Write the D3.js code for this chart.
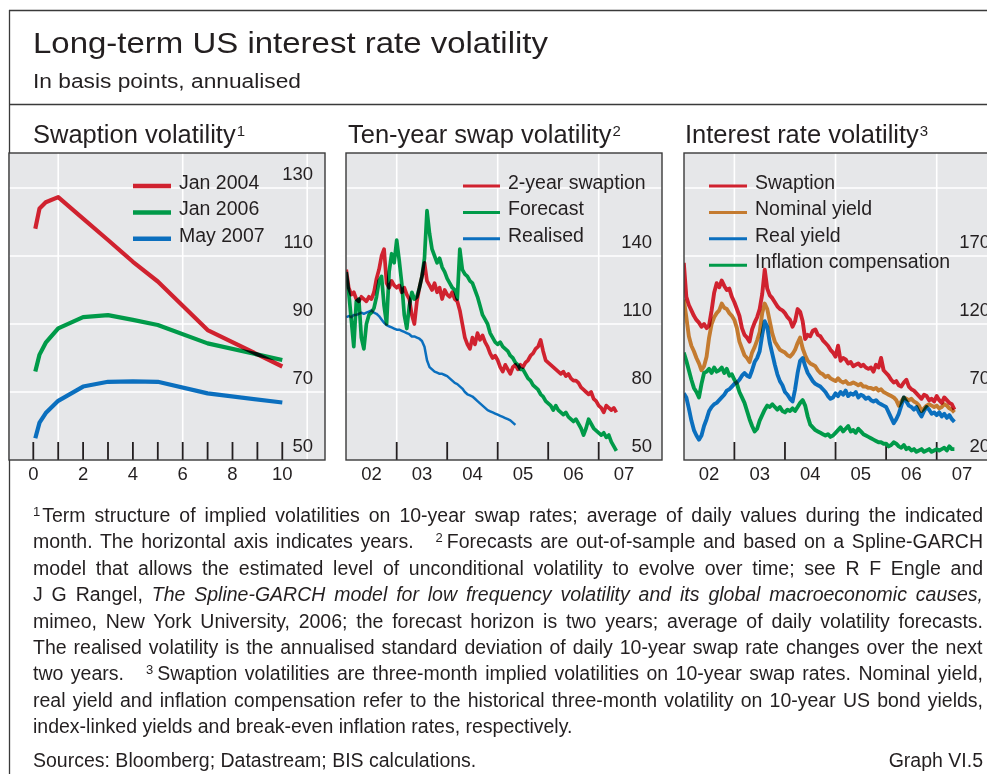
<!DOCTYPE html>
<html>
<head>
<meta charset="utf-8">
<script src="https://cdn.jsdelivr.net/npm/d3@7"></script>
<style>
  html, body { margin: 0; padding: 0; background: #fff; }
  svg { display: block; font-family: "Liberation Sans", Arial, Helvetica, sans-serif; }
  text { fill: #231f20; }
</style>
</head>
<body>
<svg id="chart" width="987" height="774"></svg>
<script>
// ---- data ----

// Panel 1: term structure of swaption implied vols (maturity in years)
const maturities = [0.08, 0.25, 0.5, 1, 2, 3, 4, 5, 7, 10]
const jan2004 = [118, 124, 125.8, 127.3, 121, 114.7, 108.3, 102.5, 88.2, 77.5]
const jan2006 = [76, 81, 84.5, 88.7, 92, 92.6, 91.2, 89.7, 84.3, 79.4]
const may2007 = [56.4, 61, 63.8, 67.4, 71.6, 73, 73.1, 73, 69.6, 66.9]

// Panels 2 and 3: readings every 0.05 year from Jan 2002
const START_YEAR = 2002
const STEP = 0.05

const swaption2y = [
  134, 126, 123, 124, 121, 120, 122, 121, 120, 122, 121, 124, 130, 134, 140, 143, 128, 126, 129, 127,
  126, 127, 124, 126, 123, 121, 114, 110, 120, 126, 131, 137, 129, 127, 125, 128, 124, 126, 121, 125,
  123, 122, 124, 121, 120, 116, 110, 104, 101, 99, 104, 101, 106, 103, 105, 102, 100, 97, 95, 96,
  94, 91, 89, 92, 90, 88, 91, 92, 90, 92, 91, 93, 94, 96, 97, 99, 100, 103, 98, 94,
  93, 92, 91, 90, 89, 88, 89, 87, 88, 86, 85, 85, 84, 82, 81, 80, 79, 80, 77, 76,
  74, 73, 71, 74, 73, 72, 73, 71
]
const forecast = [
  133, 124, 112, 100, 120, 121, 104, 99, 110, 114, 115, 117, 122, 129, 131, 118, 110, 133, 141, 137,
  147, 138, 128, 114, 108, 118, 124, 121, 122, 126, 131, 139, 160, 150, 143, 140, 137, 139, 135, 133,
  130, 128, 126, 125, 121, 143, 134, 132, 131, 129, 128, 125, 122, 118, 114, 112, 110, 106, 104, 102,
  101, 102, 100, 99, 98, 96, 95, 93, 92, 90, 90, 88, 86, 85, 83, 82, 81, 79, 78, 76,
  75, 74, 72, 74, 72, 71, 70, 71, 69, 68, 67, 68, 66, 64, 61, 64, 68, 66, 64, 63,
  62, 61, 62, 60, 61, 58, 56, 54
]
const realised = [
  113, 113.5, 113, 114, 114, 114.5, 115, 114.5, 115, 115.5, 116, 115, 114.5, 113.5, 112, 110.5, 109.5, 109, 108.5, 108,
  107.5, 107.5, 107, 106.5, 106, 105.5, 104.5, 104.5, 104, 103.5, 102.5, 100, 94, 91, 90, 89, 88.5, 88, 88, 87.5,
  87, 86, 85, 84, 83.5, 82.5, 81.5, 80, 79, 78.5, 78, 77, 76, 75, 74, 73, 72, 71.5, 71, 70.5,
  70, 69.5, 69, 68.5, 68, 67.5, 66.5, 65.5
]

const swaption3m = [
  165, 140, 134, 130, 126, 123, 121, 118, 120, 117, 119, 130, 143, 150, 147, 152, 148, 145, 146, 140,
  136, 131, 126, 117, 112, 110, 107, 116, 121, 125, 131, 142, 160, 146, 141, 139, 136, 133, 131, 130,
  128, 125, 123, 118, 122, 131, 129, 122, 109, 112, 111, 115, 116, 112, 111, 108, 106, 104, 101, 99,
  96, 104, 93, 95, 94, 91, 92, 89, 90, 91, 89, 90, 88, 87, 88, 85, 90, 88, 95, 86,
  84, 82, 79, 77, 78, 75, 74, 77, 79, 74, 72, 71, 69, 67, 65, 68, 67, 64, 65, 63,
  67, 64, 62, 66, 64, 62, 61, 57
]
const nominalYield = [
  138, 125, 111, 104, 100, 95, 91, 86, 89, 96, 110, 120, 125, 128, 130, 135, 132, 131, 128, 126,
  123, 117, 107, 102, 97, 95, 92, 99, 103, 108, 114, 128, 135, 131, 122, 113, 107, 104, 101, 100,
  99, 97, 96, 98, 101, 106, 110, 102, 97, 93, 91, 90, 89, 86, 84, 83, 81, 82, 80, 79,
  78, 80, 78, 77, 78, 76, 76, 77, 76, 75, 76, 74, 74, 73, 73, 72, 73, 71, 72, 70,
  69, 68, 67, 66, 64, 60, 63, 66, 65, 64, 65, 63, 62, 60, 56, 58, 60, 61, 60, 59,
  60, 58, 59, 61, 60, 58, 57, 55
]
const realYield = [
  69, 66, 58, 49, 42, 38, 35, 38, 45, 50, 56, 59, 61, 62, 64, 66, 68, 71, 72, 74,
  76, 77, 79, 82, 84, 82, 81, 86, 92, 95, 100, 112, 122, 118, 106, 98, 90, 83, 78, 75,
  70, 68, 65, 63, 72, 84, 93, 95, 89, 84, 81, 78, 76, 75, 74, 72, 70, 67, 65, 66,
  69, 67, 70, 68, 71, 67, 69, 68, 70, 66, 68, 67, 65, 66, 64, 63, 64, 62, 61, 60,
  59, 55, 51, 47, 50, 54, 60, 66, 63, 60, 59, 57, 59, 55, 52, 56, 59, 57, 54, 55,
  53, 55, 52, 54, 51, 53, 50, 48
]
const inflationComp = [
  99, 93, 86, 79, 73, 70, 66, 76, 84, 85, 87, 84, 88, 85, 86, 88, 84, 87, 82, 83,
  79, 76, 70, 66, 62, 56, 50, 45, 41, 43, 49, 53, 57, 60, 59, 61, 59, 57, 59, 56,
  55, 57, 56, 58, 56, 59, 62, 64, 60, 52, 46, 44, 42, 41, 40, 39, 38, 39, 37, 38,
  40, 42, 44, 41, 43, 45, 41, 42, 40, 43, 41, 39, 38, 37, 36, 35, 34, 33, 33, 32,
  32, 30, 31, 33, 32, 30, 29, 31, 28, 29, 27, 28, 26, 27, 28, 26, 27, 28, 26, 27,
  28, 27, 28, 29, 27, 30, 28, 28
]

const p1Ticks = [50, 70, 90, 110, 130]
const p2Ticks = [50, 80, 110, 140]
const p3Ticks = [20, 70, 120, 170]
const yearLabels = ["02", "03", "04", "05", "06", "07"]

// ---- layout ----
const INK = "#231f20"
const FRAME = "#3a3a3a"
const PLOT_BG = "#e6e7e9"
const RED = "#d0222f"
const GREEN = "#009a49"
const BLUE = "#0b6fbe"
const ORANGE = "#c47b30"
const TOP = 153
const BOTTOM = 460

const svg = d3.select("#chart")

// outer frame
svg.append("line").attr("x1", 9).attr("x2", 987).attr("y1", 10.5).attr("y2", 10.5)
  .attr("stroke", FRAME).attr("stroke-width", 1.3)
svg.append("line").attr("x1", 9.5).attr("x2", 9.5).attr("y1", 10).attr("y2", 774)
  .attr("stroke", FRAME).attr("stroke-width", 1.3)
svg.append("line").attr("x1", 9).attr("x2", 987).attr("y1", 104.5).attr("y2", 104.5)
  .attr("stroke", FRAME).attr("stroke-width", 1.3)

svg.append("text")
  .attr("x", 33).attr("y", 53)
  .attr("font-size", 29)
  .attr("textLength", 515).attr("lengthAdjust", "spacingAndGlyphs")
  .text("Long-term US interest rate volatility")
svg.append("text")
  .attr("x", 33).attr("y", 88)
  .attr("font-size", 20)
  .attr("textLength", 268).attr("lengthAdjust", "spacingAndGlyphs")
  .text("In basis points, annualised")

const timeSeries = vals => vals.map((v, i) => [START_YEAR + i * STEP, v])

const panels = [
  {
    id: "p1", left: 9, right: 325, title: "Swaption volatility", sup: "1", titleX: 33,
    x: d3.scaleLinear().domain([0, 10]).range([33.3, 282.3]),
    y: d3.scaleLinear().domain([50, 130]).range([BOTTOM, 188]),
    yGrid: [70, 90, 110, 130], yTicks: p1Ticks, labelX: 313,
    xGrid: [1, 6, 11], xTicks: d3.range(0, 11),
    xLabels: d3.range(0, 11, 2).map(v => ({ at: v, text: String(v) })),
    series: [
      { name: "Jan 2004", color: RED, width: 4.2, points: maturities.map((m, i) => [m, jan2004[i]]) },
      { name: "Jan 2006", color: GREEN, width: 4.2, points: maturities.map((m, i) => [m, jan2006[i]]) },
      { name: "May 2007", color: BLUE, width: 4.2, points: maturities.map((m, i) => [m, may2007[i]]) }
    ],
    legend: { x1: 133, x2: 171, tx: 179, width: 4.5 }
  },
  {
    id: "p2", left: 346, right: 662, title: "Ten-year swap volatility", sup: "2", titleX: 348,
    x: d3.scaleLinear().domain([2002, 2007]).range([346.2, 598.7]),
    y: d3.scaleLinear().domain([50, 170]).range([BOTTOM, 188]),
    yGrid: [80, 110, 140, 170], yTicks: p2Ticks, labelX: 652,
    xGrid: [2003, 2005, 2007], xTicks: [2003, 2004, 2005, 2006, 2007],
    xLabels: yearLabels.map((t, i) => ({ at: 2002.5 + i, text: t })),
    series: [
      { name: "2-year swaption", color: RED, width: 3.7, points: timeSeries(swaption2y) },
      { name: "Forecast", color: GREEN, width: 3.7, points: timeSeries(forecast) },
      { name: "Realised", color: BLUE, width: 2.5, points: timeSeries(realised) }
    ],
    legend: { x1: 463, x2: 500, tx: 508, width: 3 }
  },
  {
    id: "p3", left: 684, right: 1000, title: "Interest rate volatility", sup: "3", titleX: 685,
    x: d3.scaleLinear().domain([2002, 2007]).range([683.8, 936.7]),
    y: d3.scaleLinear().domain([20, 220]).range([BOTTOM, 188]),
    yGrid: [70, 120, 170, 220], yTicks: p3Ticks, labelX: 990,
    xGrid: [2003, 2005, 2007], xTicks: [2003, 2004, 2005, 2006, 2007],
    xLabels: yearLabels.map((t, i) => ({ at: 2002.5 + i, text: t })),
    series: [
      { name: "Swaption", color: RED, width: 3.9, points: timeSeries(swaption3m) },
      { name: "Nominal yield", color: ORANGE, width: 3.9, points: timeSeries(nominalYield) },
      { name: "Real yield", color: BLUE, width: 3.9, points: timeSeries(realYield) },
      { name: "Inflation compensation", color: GREEN, width: 3.9, points: timeSeries(inflationComp) }
    ],
    legend: { x1: 709, x2: 747, tx: 755, width: 3 }
  }
]

const defs = svg.append("defs")

panels.forEach(p => {
  const g = svg.append("g")
  const w = p.right - p.left

  g.append("rect")
    .attr("x", p.left).attr("y", TOP).attr("width", w).attr("height", BOTTOM - TOP)
    .attr("fill", PLOT_BG)

  // grid
  p.yGrid.forEach(v => {
    g.append("line")
      .attr("x1", p.left).attr("x2", p.right).attr("y1", p.y(v)).attr("y2", p.y(v))
      .attr("stroke", "#fff").attr("stroke-width", 1.6)
  })
  p.xGrid.forEach(v => {
    g.append("line")
      .attr("x1", p.x(v)).attr("x2", p.x(v)).attr("y1", TOP).attr("y2", BOTTOM)
      .attr("stroke", "#fff").attr("stroke-width", 1.6)
  })

  // tick marks standing on the bottom axis
  p.xTicks.forEach(v => {
    g.append("line")
      .attr("x1", p.x(v)).attr("x2", p.x(v)).attr("y1", BOTTOM).attr("y2", BOTTOM - 18)
      .attr("stroke", INK).attr("stroke-width", 1.8)
  })

  // series
  defs.append("clipPath").attr("id", "clip-" + p.id)
    .append("rect").attr("x", p.left).attr("y", TOP).attr("width", w).attr("height", BOTTOM - TOP)

  const line = d3.line().x(d => p.x(d[0])).y(d => p.y(d[1]))
  const sg = g.append("g")
    .attr("clip-path", `url(#clip-${p.id})`)
    .style("isolation", "isolate")
  p.series.forEach(s => {
    sg.append("path")
      .datum(s.points)
      .attr("d", line)
      .attr("fill", "none")
      .attr("stroke", s.color)
      .attr("stroke-width", s.width)
      .attr("stroke-linejoin", "round")
      .style("mix-blend-mode", "multiply")
  })

  // plot border
  g.append("rect")
    .attr("x", p.left).attr("y", TOP).attr("width", w).attr("height", BOTTOM - TOP)
    .attr("fill", "none").attr("stroke", FRAME).attr("stroke-width", 1.4)

  // y labels sit just above their grid line
  p.yTicks.forEach(v => {
    g.append("text")
      .attr("x", p.labelX).attr("y", p.y(v) - 8.5)
      .attr("text-anchor", "end")
      .attr("font-size", 18.5)
      .text(v)
  })

  // x labels
  p.xLabels.forEach(l => {
    g.append("text")
      .attr("x", p.x(l.at)).attr("y", 480)
      .attr("text-anchor", "middle")
      .attr("font-size", 18.5)
      .text(l.text)
  })

  // legend
  p.series.forEach((s, i) => {
    const ly = 186 + i * 26.4
    g.append("line")
      .attr("x1", p.legend.x1).attr("x2", p.legend.x2).attr("y1", ly).attr("y2", ly)
      .attr("stroke", s.color).attr("stroke-width", p.legend.width)
    g.append("text")
      .attr("x", p.legend.tx).attr("y", ly + 2.7)
      .attr("font-size", 19.5)
      .text(s.name)
  })

  // panel title
  const t = g.append("text")
    .attr("x", p.titleX).attr("y", 143)
    .attr("font-size", 25.5)
  t.append("tspan").text(p.title)
  t.append("tspan").attr("font-size", 15).attr("dy", -7).attr("dx", 1).text(p.sup)
})

// ---- footnotes ----
const NOTE_X = 33
const NOTE_RIGHT = 983
const noteLines = [
  [{ sup: "1" }, { t: "Term structure of implied volatilities on 10-year swap rates; average of daily values during the indicated", dx: 2 }],
  [{ t: "month. The horizontal axis indicates years." }, { sup: "2", dx: 22 }, { t: "Forecasts are out-of-sample and based on a Spline-GARCH", dx: 4 }],
  [{ t: "model that allows the estimated level of unconditional volatility to evolve over time; see R F Engle and" }],
  [{ t: "J G Rangel, " }, { t: "The Spline-GARCH model for low frequency volatility and its global macroeconomic causes,", it: true }],
  [{ t: "mimeo, New York University, 2006; the forecast horizon is two years; average of daily volatility forecasts." }],
  [{ t: "The realised volatility is the annualised standard deviation of daily 10-year swap rate changes over the next" }],
  [{ t: "two years." }, { sup: "3", dx: 22 }, { t: "Swaption volatilities are three-month implied volatilities on 10-year swap rates. Nominal yield,", dx: 4 }],
  [{ t: "real yield and inflation compensation refer to the historical three-month volatility on 10-year US bond yields," }],
  [{ t: "index-linked yields and break-even inflation rates, respectively." }]
]

noteLines.forEach((segs, i) => {
  const text = svg.append("text")
    .attr("x", NOTE_X).attr("y", 521.7 + i * 26.45)
    .attr("font-size", 19.5)
  let raised = false
  segs.forEach(s => {
    const ts = text.append("tspan")
    if (s.sup) {
      ts.text(s.sup).attr("font-size", 13).attr("dy", -6)
      raised = true
    } else {
      ts.text(s.t)
      if (raised) { ts.attr("dy", 6); raised = false }
      if (s.it) ts.attr("font-style", "italic")
    }
    if (s.dx) ts.attr("dx", s.dx)
  })
  if (i < noteLines.length - 1) {
    const natural = text.node().getBBox().width
    const spaces = (text.node().textContent.match(/ /g) || []).length
    text.style("word-spacing", ((NOTE_RIGHT - NOTE_X - natural) / spaces) + "px")
  }
})

svg.append("text")
  .attr("x", NOTE_X).attr("y", 766.7)
  .attr("font-size", 19.5)
  .text("Sources: Bloomberg; Datastream; BIS calculations.")
svg.append("text")
  .attr("x", NOTE_RIGHT).attr("y", 766.7)
  .attr("text-anchor", "end")
  .attr("font-size", 19.5)
  .text("Graph VI.5")
</script>
</body>
</html>
